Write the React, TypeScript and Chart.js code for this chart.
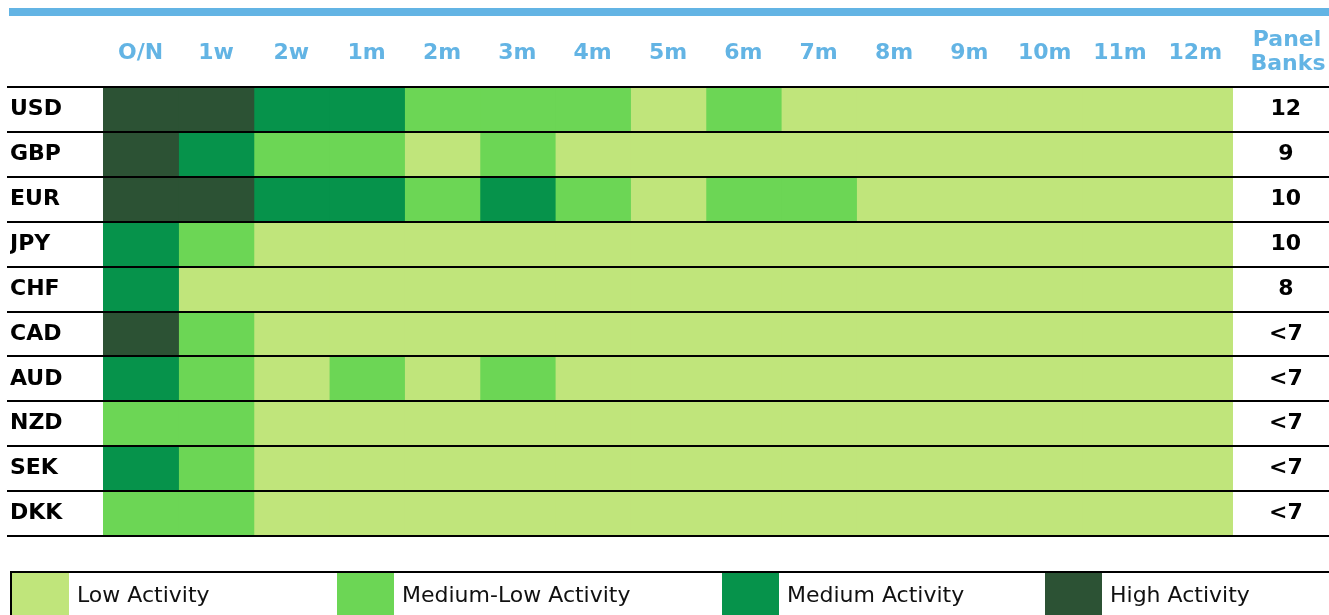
import React, { useEffect, useRef } from 'react';
import { Chart, registerables } from 'chart.js';

Chart.register(...registerables);

const tenors = ['O/N', '1w', '2w', '1m', '2m', '3m', '4m', '5m', '6m', '7m', '8m', '9m', '10m', '11m', '12m'];
const currencies = ['USD', 'GBP', 'EUR', 'JPY', 'CHF', 'CAD', 'AUD', 'NZD', 'SEK', 'DKK'];
const panelBanks = ['12', '9', '10', '10', '8', '<7', '<7', '<7', '<7', '<7'];
const levelNames = ['Low Activity', 'Medium-Low Activity', 'Medium Activity', 'High Activity'];
const levelColors = ['#c0e57b', '#6cd655', '#06934b', '#2c5234'];

// activity level per tenor: 0 = Low, 1 = Medium-Low, 2 = Medium, 3 = High
const usd = [3, 3, 2, 2, 1, 1, 1, 0, 1, 0, 0, 0, 0, 0, 0];
const gbp = [3, 2, 1, 1, 0, 1, 0, 0, 0, 0, 0, 0, 0, 0, 0];
const eur = [3, 3, 2, 2, 1, 2, 1, 0, 1, 1, 0, 0, 0, 0, 0];
const jpy = [2, 1, 0, 0, 0, 0, 0, 0, 0, 0, 0, 0, 0, 0, 0];
const chf = [2, 0, 0, 0, 0, 0, 0, 0, 0, 0, 0, 0, 0, 0, 0];
const cad = [3, 1, 0, 0, 0, 0, 0, 0, 0, 0, 0, 0, 0, 0, 0];
const aud = [2, 1, 0, 1, 0, 1, 0, 0, 0, 0, 0, 0, 0, 0, 0];
const nzd = [1, 1, 0, 0, 0, 0, 0, 0, 0, 0, 0, 0, 0, 0, 0];
const sek = [2, 1, 0, 0, 0, 0, 0, 0, 0, 0, 0, 0, 0, 0, 0];
const dkk = [1, 1, 0, 0, 0, 0, 0, 0, 0, 0, 0, 0, 0, 0, 0];
const activity = [usd, gbp, eur, jpy, chf, cad, aud, nzd, sek, dkk];

const FONT = "'DejaVu Sans', Verdana, sans-serif";
const BLUE = '#63b4e4';

const decorPlugin = {
  id: 'decor',
  afterDatasetsDraw(chart: any) {
    const { ctx, chartArea } = chart;
    const { top, bottom } = chartArea;
    ctx.save();
    // row separator lines
    ctx.fillStyle = '#000';
    const n = currencies.length;
    for (let i = 0; i <= n; i++) {
      const y = Math.round(top + (i * (bottom - top)) / n);
      ctx.fillRect(7, y - 1, chart.width - 7, 2);
    }
    ctx.restore();
  },
  afterDraw(chart: any) {
    const { ctx } = chart;
    ctx.save();
    // top blue band
    ctx.fillStyle = BLUE;
    ctx.fillRect(9, 8, chart.width - 9, 8);
    // Panel Banks header
    ctx.fillStyle = BLUE;
    ctx.font = `bold 22px ${FONT}`;
    ctx.textAlign = 'center';
    ctx.textBaseline = 'middle';
    ctx.fillText('Panel', 1287, 40);
    ctx.fillText('Banks', 1288, 64);
    // legend box
    ctx.strokeStyle = '#000';
    ctx.lineWidth = 2;
    ctx.strokeRect(11, 572, chart.width + 10, 100);
    const swatchX = [12, 337, 722, 1045];
    levelNames.forEach((name, i) => {
      ctx.fillStyle = levelColors[i];
      ctx.fillRect(swatchX[i], 573, 57, 50);
      ctx.fillStyle = '#111';
      ctx.font = `22px ${FONT}`;
      ctx.textAlign = 'left';
      ctx.textBaseline = 'middle';
      ctx.fillText(name, swatchX[i] + 65, 596);
    });
    ctx.restore();
  },
};

export default function App() {
  const ref = useRef<HTMLCanvasElement | null>(null);

  useEffect(() => {
    if (!ref.current) return;
    const datasets = tenors.map((t, j) => ({
      label: t,
      data: currencies.map(() => 1),
      backgroundColor: activity.map((row) => levelColors[row[j]]),
      borderWidth: 0,
      barPercentage: 1,
      categoryPercentage: 1,
      inflateAmount: 0.6,
    }));
    const chart = new Chart(ref.current, {
      type: 'bar',
      data: { labels: currencies, datasets },
      options: {
        indexAxis: 'y',
        animation: false,
        responsive: false,
        devicePixelRatio: 1,
        layout: { padding: { left: 10, top: 0, right: 0, bottom: 79 } },
        plugins: { legend: { display: false }, tooltip: { enabled: false } },
        scales: {
          x: { type: 'linear', display: false, stacked: true, min: 0, max: tenors.length },
          y: {
            type: 'category',
            stacked: true,
            position: 'left',
            grid: { display: false, drawTicks: false },
            border: { display: false },
            ticks: { crossAlign: 'far', color: '#000', padding: 0, autoSkip: false, font: { family: FONT, size: 22, weight: 'bold' } },
            afterFit: (s: any) => { s.width = 93; },
          },
          y2: {
            type: 'category',
            labels: panelBanks,
            position: 'right',
            offset: true,
            grid: { display: false, drawTicks: false },
            border: { display: false },
            ticks: { crossAlign: 'center', color: '#000', padding: 36, autoSkip: false, font: { family: FONT, size: 22, weight: 'bold' } },
            afterFit: (s: any) => { s.width = 96; },
          },
          x2: {
            type: 'category',
            labels: tenors,
            position: 'top',
            offset: true,
            grid: { display: false, drawTicks: false },
            border: { display: false },
            ticks: { color: BLUE, padding: 21, maxRotation: 0, autoSkip: false, font: { family: FONT, size: 22, weight: 'bold' } },
            afterFit: (s: any) => { s.height = 87; },
          },
        },
      } as any,
      plugins: [decorPlugin],
    });
    return () => chart.destroy();
  }, []);

  return (
    <div style={{ position: 'absolute', left: 0, top: 0, width: 1329, height: 615 }}>
      <canvas ref={ref} width={1329} height={615} style={{ display: 'block' }} />
    </div>
  );
}
